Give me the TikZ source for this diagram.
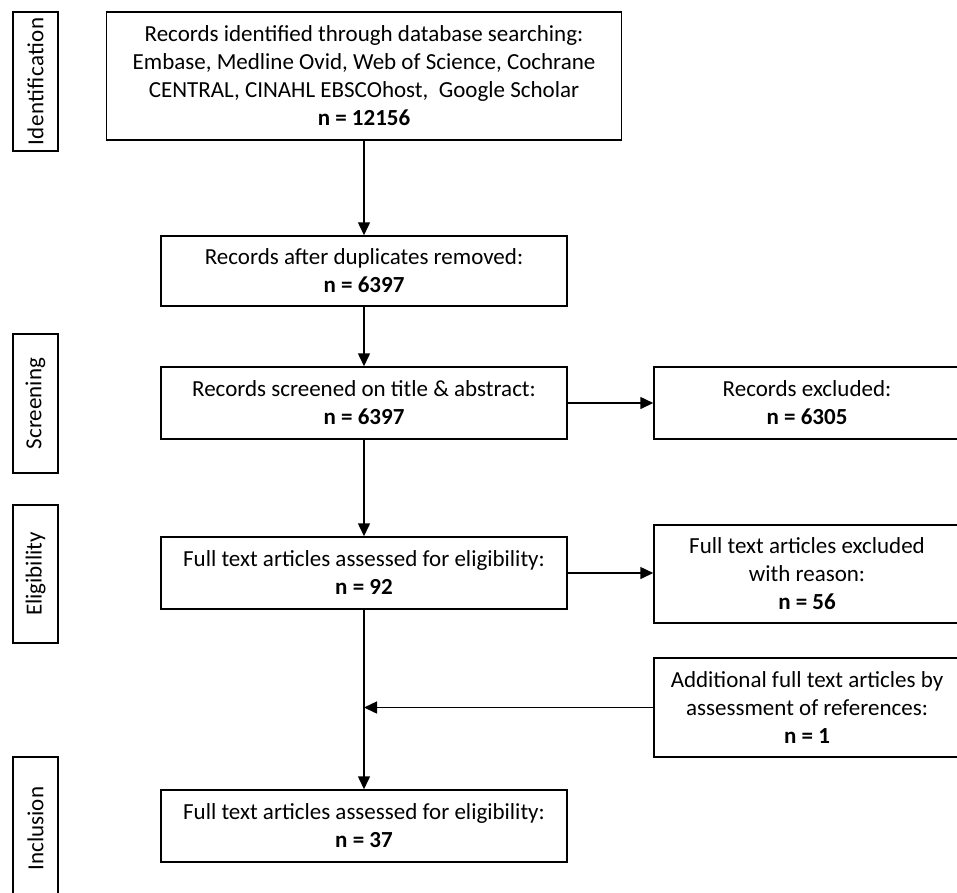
\documentclass[tikz,border=0pt]{standalone}
\usepackage{fontspec}
\setmainfont{Carlito}
\usetikzlibrary{arrows.meta}
\begin{document}
\begin{tikzpicture}[x=1pt,y=-1pt,
  box/.style={draw, line width=1.5pt, align=center, inner sep=0pt, font=\fontsize{23}{28}\selectfont},
  lab/.style={draw, line width=1.5pt, rotate=90, minimum height=45pt, inner sep=0pt, font=\fontsize{23}{26}\selectfont},
  arr/.style={line width=1.5pt, -{Triangle[length=13pt,width=12pt]}}]
\useasboundingbox (0,0) rectangle (957,892);
% phase labels
\node[lab, minimum width=139pt] (lid) at (35.5,81.5) {\addfontfeature{LetterSpace=2}Identification};
\node[lab, minimum width=139pt] (lsc) at (35.5,403.5) {Screening};
\node[lab, minimum width=138pt] (lel) at (35.5,574) {Eligibility};
\node[lab, minimum width=143pt] (lin) at (35.5,828.5) {Inclusion};
% main column
\node[box, minimum width=515pt, minimum height=128pt] (top) at (364,76)
  {Records identified through database searching:\\ Embase, Medline Ovid, Web of Science, Cochrane\\ CENTRAL, CINAHL EBSCOhost,\ \ Google Scholar\\ \textbf{n = 12156}};
\node[box, minimum width=406pt, minimum height=70pt] (dup) at (364,271)
  {Records after duplicates removed:\\ \textbf{n = 6397}};
\node[box, minimum width=406pt, minimum height=72pt] (scr) at (364,403)
  {Records screened on title \& abstract:\\ \textbf{n = 6397}};
\node[box, minimum width=406pt, minimum height=72pt] (ft) at (364,573)
  {Full text articles assessed for eligibility:\\ \textbf{n = 92}};
\node[box, minimum width=406pt, minimum height=72pt] (fin) at (364,826)
  {Full text articles assessed for eligibility:\\ \textbf{n = 37}};
% right column
\node[box, minimum width=306pt, minimum height=72pt] (excl) at (807,403)
  {Records excluded:\\ \textbf{n = 6305}};
\node[box, minimum width=306pt, minimum height=98pt] (ftex) at (807,574)
  {Full text articles excluded\\ with reason:\\ \textbf{n = 56}};
\node[box, minimum width=306pt, minimum height=99pt] (add) at (807,707.5)
  {Additional full text articles by\\ assessment of references:\\ \textbf{n = 1}};
% connectors
\draw[arr] (top.south) -- (dup.north);
\draw[arr] (dup.south) -- (scr.north);
\draw[arr] (scr.east) -- (excl.west);
\draw[arr] (scr.south) -- (ft.north);
\draw[arr] (ft.east) -- (ft.east -| ftex.west);
\draw[arr] (ft.south) -- (fin.north);
\draw[arr] (add.west) -- (add.west -| ft.south);
\end{tikzpicture}
\end{document}
